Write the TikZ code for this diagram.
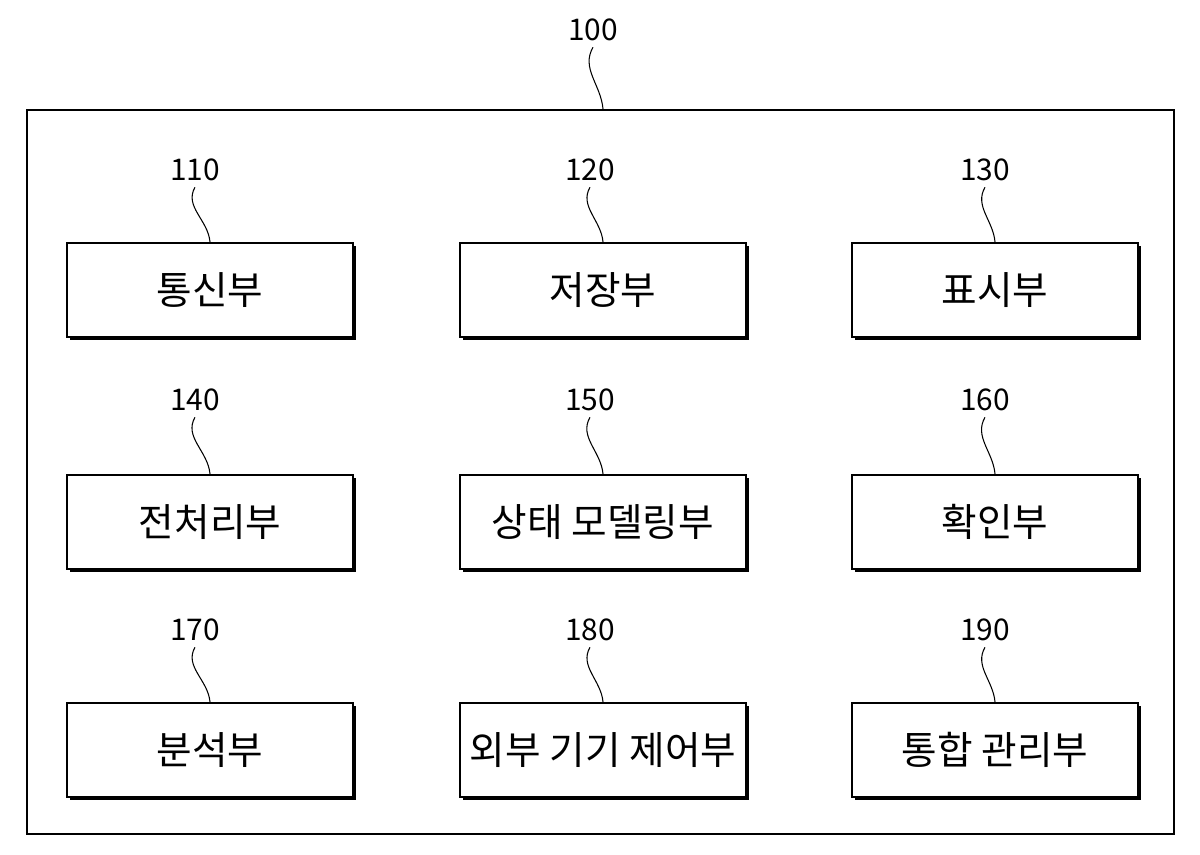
\documentclass[tikz,border=0pt]{standalone}
\usepackage{fontspec}
\setmainfont{Noto Sans CJK KR}
\usetikzlibrary{shadows}
\begin{document}
\begin{tikzpicture}[
    unit/.style = {draw, line width=1.2pt, fill=white, minimum width=5.72cm, minimum height=1.88cm,
                   font=\fontsize{22}{26}\selectfont,
                   drop shadow={shadow xshift=1.6pt, shadow yshift=-1.6pt, opacity=1, fill=black}},
    num/.style = {font=\fontsize{17}{20}\selectfont},
    lead/.style = {line width=0.6pt}]
    \useasboundingbox (0,0) rectangle (24,-17.08);

    \node[draw, line width=1.2pt, minimum width=22.94cm, minimum height=14.48cm] (b100) at (12.01,-9.44) {};
    \node[num] (l100) at (11.86,-0.6) {100};
    \draw[lead] (l100.south) to[out=-120,in=95] (b100.north -| 12.06,0);

    \node[unit] (b110) at (4.2,-5.8)    {통신부};
    \node[unit] (b120) at (12.06,-5.8)  {저장부};
    \node[unit] (b130) at (19.9,-5.8)   {표시부};
    \node[unit] (b140) at (4.2,-10.44)  {전처리부};
    \node[unit] (b150) at (12.06,-10.44) {상태 모델링부};
    \node[unit] (b160) at (19.9,-10.44) {확인부};
    \node[unit] (b170) at (4.2,-15.0)   {분석부};
    \node[unit] (b180) at (12.06,-15.0) {외부 기기 제어부};
    \node[unit] (b190) at (19.9,-15.0)  {통합 관리부};

    \node[num] (l110) at (3.9,-3.4)   {110};
    \node[num] (l120) at (11.8,-3.4)  {120};
    \node[num] (l130) at (19.7,-3.4)  {130};
    \node[num] (l140) at (3.9,-8.0)   {140};
    \node[num] (l150) at (11.8,-8.0)  {150};
    \node[num] (l160) at (19.7,-8.0)  {160};
    \node[num] (l170) at (3.9,-12.6)  {170};
    \node[num] (l180) at (11.8,-12.6) {180};
    \node[num] (l190) at (19.7,-12.6) {190};

    \foreach \n in {110,120,130,140,150,160,170,180,190}
        \draw[lead] (l\n.south) to[out=-120,in=95] (b\n.north);
\end{tikzpicture}
\end{document}
